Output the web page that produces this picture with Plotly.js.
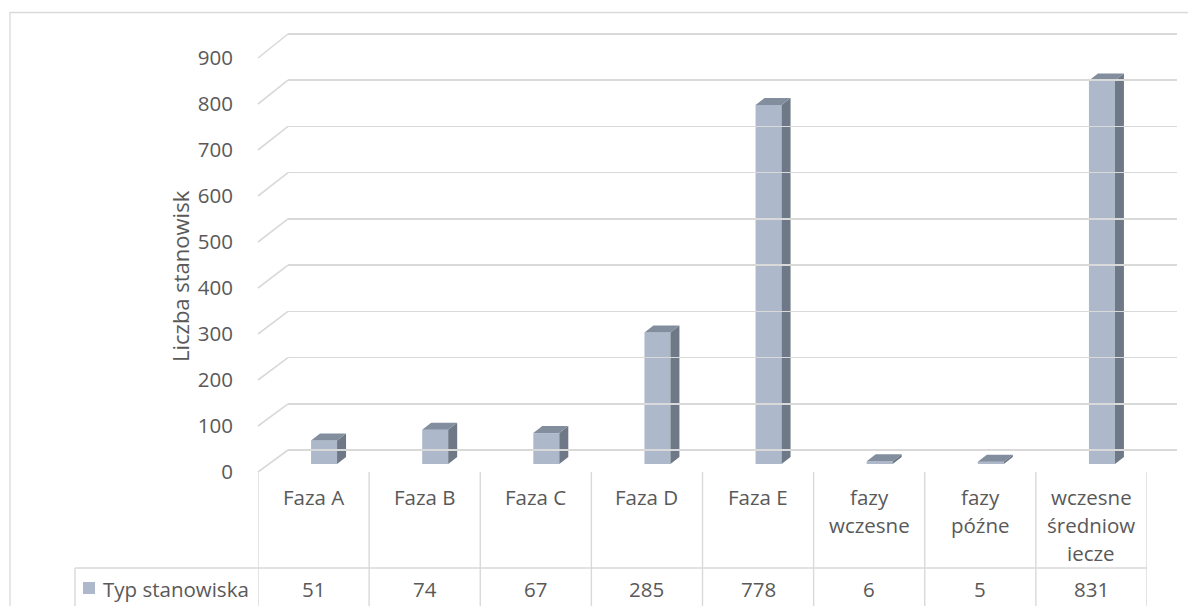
<!DOCTYPE html>
<html>
<head>
<meta charset="utf-8">
<script src="https://cdn.plot.ly/plotly-3.0.1.min.js"></script>
<style>html,body{margin:0;padding:0;background:#fff;}#chart{width:1188px;height:606px;}</style>
</head>
<body>
<div id="chart"></div>
<script>
// ---- data ----
const categories = ["Faza A", "Faza B", "Faza C", "Faza D", "Faza E", "fazy\nwczesne", "fazy\npóźne", "wczesne\nśredniow\niecze"];
const values = [51, 74, 67, 285, 778, 6, 5, 831];
const seriesName = "Typ stanowiska";
const yTickVals = [0, 100, 200, 300, 400, 500, 600, 700, 800, 900];
const yTitle = "Liczba stanowisk";

// ---- layout helpers (pixel -> paper) ----
const W = 1188, H = 606;
const px = x => x / W;
const py = y => 1 - y / H;
const YMAX = 900;

const FRONT = { x0: 258, x1: 1147, yZero: 472, yTop: 58 };   // front plane (labels, table)
const BACK  = { x0: 288, x1: 1177, yZero: 450, yTop: 34 };   // back wall (gridlines)
const BARP  = { x0: 268.5, x1: 1157.5, yZero: 464, pxPerUnit: 0.4615 }; // bar plane

const slot = (FRONT.x1 - FRONT.x0) / categories.length;
const barW = 26 / slot;
const depthX = 9 / slot;
const depthY = 7 / BARP.pxPerUnit;
const hw = barW / 2;

// back wall axis padded slightly so the 900 gridline is not clipped at the edge
const PAD = 4;
const backK = (BACK.yZero - BACK.yTop) / YMAX;

const idx = categories.map((_, i) => i);

const textColor = "#595959";
const gridColor = "#D9D9D9";
const faceColor = "#ADB9CA";
const sideColor = "#6E7886";
const topColor = "#828D9E";
const FONT = "Open Sans, sans-serif";
const FS = 20.5;

// ---- traces ----
const barTrace = {
  type: "bar", x: idx, y: values, name: seriesName, width: barW,
  marker: { color: faceColor, line: { width: 0 } },
  xaxis: "x", yaxis: "y", showlegend: false, hoverinfo: "y"
};
const sx = [], sy = [], tx = [], ty = [];
idx.forEach((i) => {
  const v = values[i];
  sx.push(i + hw, i + hw, i + hw + depthX, i + hw + depthX, i + hw, null);
  sy.push(0, v, v + depthY, depthY, 0, null);
  tx.push(i - hw, i + hw, i + hw + depthX, i - hw + depthX, i - hw, null);
  ty.push(v, v, v + depthY, v + depthY, v, null);
});
const sideTrace = { type: "scatter", mode: "lines", x: sx, y: sy, fill: "toself", fillcolor: sideColor,
  line: { width: 0, color: sideColor }, xaxis: "x", yaxis: "y", showlegend: false, hoverinfo: "skip" };
const topTrace = { type: "scatter", mode: "lines", x: tx, y: ty, fill: "toself", fillcolor: topColor,
  line: { width: 0, color: topColor }, xaxis: "x", yaxis: "y", showlegend: false, hoverinfo: "skip" };
const wallTrace = { type: "scatter", mode: "markers", x: [0.5], y: [0], opacity: 0, xaxis: "x2", yaxis: "y2",
  showlegend: false, hoverinfo: "skip" };
const frontTrace = { type: "scatter", mode: "markers", x: [0], y: [0], opacity: 0, xaxis: "x3", yaxis: "y3",
  showlegend: false, hoverinfo: "skip" };

// ---- shapes ----
const shapes = [];
shapes.push({ type: "rect", xref: "paper", yref: "paper", x0: px(10), x1: px(1200), y0: py(12.5), y1: py(620),
  line: { color: gridColor, width: 1.3 }, fillcolor: "rgba(0,0,0,0)", layer: "below" });
yTickVals.forEach(v => {
  const yf = FRONT.yZero - (FRONT.yZero - FRONT.yTop) * v / YMAX;
  const yb = BACK.yZero - (BACK.yZero - BACK.yTop) * v / YMAX;
  shapes.push({ type: "line", xref: "paper", yref: "paper", x0: px(FRONT.x0), y0: py(yf), x1: px(BACK.x0), y1: py(yb),
    line: { color: gridColor, width: 1.6 }, layer: "below" });
});
const tableTop = FRONT.yZero, rowSplit = 568, tableBottom = 640;
for (let k = 0; k <= categories.length; k++) {
  shapes.push({ type: "line", xref: "x3", yref: "paper", x0: k - 0.5, x1: k - 0.5, y0: py(tableTop), y1: py(tableBottom),
    line: { color: gridColor, width: 1.4 } });
}
shapes.push({ type: "line", xref: "paper", yref: "paper", x0: px(75), x1: px(FRONT.x1), y0: py(rowSplit), y1: py(rowSplit),
  line: { color: gridColor, width: 1.4 } });
shapes.push({ type: "line", xref: "paper", yref: "paper", x0: px(75), x1: px(75), y0: py(rowSplit), y1: py(tableBottom),
  line: { color: gridColor, width: 1.4 } });
shapes.push({ type: "rect", xref: "paper", yref: "paper", x0: px(83), x1: px(95), y0: py(582), y1: py(594),
  line: { width: 0 }, fillcolor: faceColor });

// ---- annotations ----
const annotations = [];
categories.forEach((c, i) => {
  c.split("\n").forEach((line, k) => {
    annotations.push({ xref: "x3", yref: "paper", x: i, y: py(497 + 28 * k), text: line, showarrow: false,
      xanchor: "center", yanchor: "middle", font: { family: FONT, size: FS, color: textColor } });
  });
  annotations.push({ xref: "x3", yref: "paper", x: i, y: py(589), text: String(values[i]), showarrow: false,
    xanchor: "center", yanchor: "middle", font: { family: FONT, size: FS, color: textColor } });
});
annotations.push({ xref: "paper", yref: "paper", x: px(101), y: py(589), text: seriesName, showarrow: false,
  xanchor: "left", yanchor: "middle", font: { family: FONT, size: FS, color: textColor } });
annotations.push({ xref: "paper", yref: "paper", x: px(180), y: py(276), text: yTitle, textangle: -90, showarrow: false,
  xanchor: "center", yanchor: "middle", font: { family: FONT, size: 22, color: textColor } });

const layout = {
  width: W, height: H, margin: { l: 0, r: 0, t: 0, b: 0 },
  paper_bgcolor: "#ffffff", plot_bgcolor: "rgba(0,0,0,0)",
  font: { family: FONT, size: FS, color: textColor },
  showlegend: false,
  barmode: "overlay",
  xaxis: { domain: [px(BARP.x0), px(BARP.x1)], range: [-0.5, categories.length - 0.5], visible: false, fixedrange: true },
  yaxis: { domain: [py(BARP.yZero), py(BARP.yZero - YMAX * BARP.pxPerUnit)], range: [0, YMAX], visible: false, fixedrange: true },
  xaxis2: { domain: [px(BACK.x0), px(BACK.x1)], range: [0, 1], anchor: "y2", showgrid: false, zeroline: false,
    showticklabels: false, ticks: "", showline: false },
  yaxis2: { domain: [py(BACK.yZero + PAD * backK), py(BACK.yTop - PAD * backK)], range: [-PAD, YMAX + PAD], anchor: "x2",
    showgrid: true, gridcolor: gridColor, gridwidth: 1.6, tickvals: yTickVals, showticklabels: false, ticks: "",
    zeroline: false, showline: false },
  xaxis3: { domain: [px(FRONT.x0), px(FRONT.x1)], range: [-0.5, categories.length - 0.5], anchor: "y3", showgrid: false,
    zeroline: false, showticklabels: false, ticks: "", showline: false },
  yaxis3: { domain: [py(FRONT.yZero), py(FRONT.yTop)], range: [0, YMAX], anchor: "x3", tickvals: yTickVals,
    ticks: "outside", ticklen: 20, tickcolor: "rgba(0,0,0,0)", showgrid: false, zeroline: false, showline: false,
    tickfont: { family: FONT, size: FS, color: textColor } },
  shapes: shapes,
  annotations: annotations
};

Plotly.newPlot("chart", [wallTrace, frontTrace, barTrace, sideTrace, topTrace], layout, { displayModeBar: false, staticPlot: true });
</script>
</body>
</html>
